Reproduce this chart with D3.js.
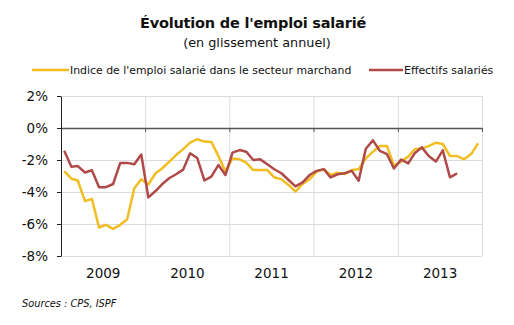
<!DOCTYPE html>
<html>
<head>
<meta charset="utf-8">
<script src="https://cdn.jsdelivr.net/npm/d3@7"></script>
<style>
  body { margin: 0; background: #fff; }
  text { font-family: "DejaVu Sans", sans-serif; fill: #111; }
</style>
</head>
<body>
<div class="canvas"></div>
<script>
const years = [2009, 2010, 2011, 2012, 2013];
const yTicks = [2, 0, -2, -4, -6, -8];

// glissement annuel, en %, mensuel de janv. 2009 a dec. 2013
const indiceMarchand = [
  -2.7, -3.17, -3.28, -4.57, -4.43, -6.22, -6.05, -6.3, -6.05, -5.7, -3.77, -3.2,
  -3.53, -2.83, -2.53, -2.12, -1.69, -1.32, -0.91, -0.7, -0.85, -0.87, -1.76, -2.71,
  -1.9, -1.96, -2.17, -2.63, -2.63, -2.63, -3.08, -3.21, -3.56, -3.98, -3.5, -3.2,
  -2.73, -2.58, -2.94, -2.79, -2.88, -2.63, -2.58, -1.9, -1.48, -1.13, -1.13, -2.35,
  -2.1, -1.79, -1.33, -1.27, -1.13, -0.92, -1.0, -1.75, -1.75, -1.96, -1.63, -0.96
];
// s'arrete en sept. 2013
const effectifs = [
  -1.42, -2.42, -2.38, -2.78, -2.64, -3.7, -3.7, -3.5, -2.18, -2.18, -2.27, -1.66,
  -4.34, -3.94, -3.52, -3.14, -2.89, -2.6, -1.58, -1.88, -3.28, -3.04, -2.31, -2.94,
  -1.54, -1.38, -1.48, -2.0, -1.96, -2.27, -2.58, -2.83, -3.25, -3.65, -3.4, -2.94,
  -2.68, -2.57, -3.09, -2.89, -2.83, -2.68, -3.3, -1.3, -0.77, -1.43, -1.64, -2.53,
  -1.97, -2.21, -1.58, -1.21, -1.75, -2.1, -1.4, -3.08, -2.84
];

const series = [
  { name: "Indice de l'emploi salarié dans le secteur marchand", values: indiceMarchand, colour: '#f2bd22' },
  { name: 'Effectifs salariés', values: effectifs, colour: '#b04a48' }
];

const W = 514, H = 325;
const plot = { left: 61, right: 482, top: 96, bottom: 256 };

const svg = d3.select('.canvas')
  .append('svg')
  .attr('width', W)
  .attr('height', H);

svg.append('rect').attr('width', W).attr('height', H).attr('fill', '#fff');

const x = d3.scaleTime()
  .domain([new Date(years[0], 0, 1), new Date(years[years.length - 1] + 1, 0, 1)])
  .range([plot.left, plot.right]);

const y = d3.scaleLinear()
  .domain([-8, 2])
  .range([plot.bottom, plot.top]);

// month i sits in the middle of its month
const monthDate = i => new Date(years[0], i, 15);
const yearStarts = d3.range(years[0], years[years.length - 1] + 2).map(yr => new Date(yr, 0, 1));

// title
svg.append('text')
  .attr('x', 253).attr('y', 28)
  .attr('text-anchor', 'middle')
  .style('font-size', '14.5px')
  .style('font-weight', 'bold')
  .style('letter-spacing', '-0.2px')
  .text("Évolution de l'emploi salarié");

svg.append('text')
  .attr('x', 257).attr('y', 47)
  .attr('text-anchor', 'middle')
  .style('font-size', '12.8px')
  .text('(en glissement annuel)');

// legend
const legendPos = [{ x: 32, tx: 70 }, { x: 369, tx: 404 }];
const legend = svg.append('g');
series.forEach((s, i) => {
  legend.append('line')
    .attr('x1', legendPos[i].x).attr('x2', legendPos[i].tx - 1)
    .attr('y1', 70).attr('y2', 70)
    .attr('stroke', s.colour).attr('stroke-width', 2.5);
  legend.append('text')
    .attr('x', legendPos[i].tx).attr('y', 74)
    .style('font-size', '10.9px')
    .text(s.name);
});

// horizontal gridlines
svg.append('g')
  .attr('transform', `translate(${plot.left},0)`)
  .call(d3.axisLeft(y).tickValues(yTicks).tickSize(-(plot.right - plot.left)).tickFormat(''))
  .call(g => g.select('.domain').remove())
  .call(g => g.selectAll('line').attr('stroke', '#dcdcdc'));

// vertical gridlines at the year boundaries
svg.append('g')
  .attr('transform', `translate(0,${plot.bottom})`)
  .call(d3.axisBottom(x).tickValues(yearStarts.slice(1)).tickSize(-(plot.bottom - plot.top)).tickFormat(''))
  .call(g => g.select('.domain').remove())
  .call(g => g.selectAll('line').attr('stroke', '#dcdcdc'));

// zero line with year ticks
svg.append('g')
  .attr('transform', `translate(0,${y(0)})`)
  .call(d3.axisBottom(x).tickValues(yearStarts).tickSize(4).tickSizeOuter(0).tickFormat(''))
  .call(g => g.select('.domain').attr('stroke', '#555').attr('stroke-width', 1.5))
  .call(g => g.selectAll('.tick line').attr('stroke', '#555'));

// y axis
svg.append('g')
  .attr('transform', `translate(${plot.left},0)`)
  .call(d3.axisLeft(y).tickValues(yTicks).tickSize(4).tickSizeOuter(0).tickPadding(9).tickFormat(d => d + '%'))
  .call(g => g.select('.domain').attr('stroke', '#222'))
  .call(g => g.selectAll('.tick line').attr('stroke', '#222'))
  .call(g => g.selectAll('text').style('font-size', '13.5px').attr('fill', '#111'));

// year labels
svg.append('g')
  .attr('transform', `translate(0,${plot.bottom})`)
  .call(d3.axisBottom(x).tickValues(years.map(yr => new Date(yr, 6, 1))).tickSize(0).tickPadding(12).tickFormat(d3.timeFormat('%Y')))
  .call(g => g.select('.domain').remove())
  .call(g => g.selectAll('text').style('font-size', '13.5px').attr('fill', '#111'));

// lines
const line = d3.line()
  .x((d, i) => x(monthDate(i)))
  .y(d => y(d));

svg.append('g')
  .selectAll('path')
  .data(series)
  .enter()
  .append('path')
  .attr('d', d => line(d.values))
  .attr('fill', 'none')
  .attr('stroke', d => d.colour)
  .attr('stroke-width', 2.5)
  .attr('stroke-linejoin', 'round');

// source
svg.append('text')
  .attr('x', 22).attr('y', 307)
  .style('font-size', '9.8px')
  .style('font-style', 'italic')
  .text('Sources : CPS, ISPF');
</script>
</body>
</html>
